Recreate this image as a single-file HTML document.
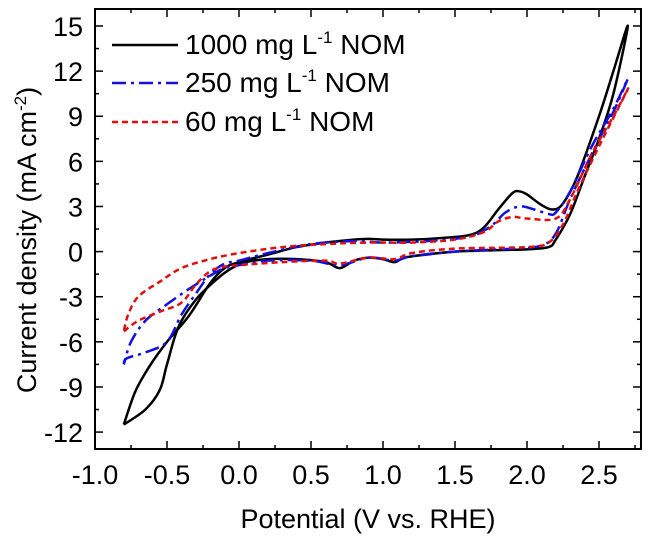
<!DOCTYPE html>
<html><head><meta charset="utf-8"><style>
body{margin:0;background:#fff}
svg{display:block;font-family:"Liberation Sans",Arial,sans-serif}
</style></head><body>
<svg id="chart" width="654" height="538">
<g id="axes"></g><g id="plot"></g><g id="legend"></g>
<text x="368" y="528" font-size="27" text-anchor="middle">Potential (V vs. RHE)</text>
<text transform="translate(36,240) rotate(-90)" font-size="27" text-anchor="middle">Current density (mA cm<tspan dy="-10" font-size="17">-2</tspan><tspan dy="10">)</tspan></text>
</svg>
<script>
const xTicks=[-1.0,-0.5,0.0,0.5,1.0,1.5,2.0,2.5];
const yTicks=[-12,-9,-6,-3,0,3,6,9,12,15];
const s1000=[[-0.8,-11.5],[-0.72,-9.3],[-0.62,-7.6],[-0.5,-6],[-0.35,-4.3],[-0.2,-2.1],[-0.1,-1.1],[0,-0.7],[0.2,-0.2],[0.4,0.3],[0.6,0.6],[0.8,0.8],[0.9,0.85],[1.0,0.8],[1.2,0.8],[1.4,0.9],[1.6,1.1],[1.7,1.6],[1.8,2.8],[1.9,3.9],[1.95,4.0],[2.0,3.8],[2.1,3.1],[2.18,2.8],[2.25,3.2],[2.35,5],[2.5,9],[2.6,12],[2.7,15],[2.6,10.5],[2.5,7.5],[2.4,5],[2.3,2.5],[2.2,0.8],[2.15,0.3],[2.0,0.15],[1.8,0.1],[1.5,0],[1.3,-0.2],[1.15,-0.4],[1.08,-0.7],[1.0,-0.5],[0.9,-0.4],[0.8,-0.6],[0.7,-1.1],[0.6,-0.7],[0.4,-0.5],[0.2,-0.5],[0.05,-0.7],[-0.05,-1.1],[-0.15,-1.8],[-0.3,-3.2],[-0.42,-5],[-0.5,-7.5],[-0.55,-9.2],[-0.65,-10.5],[-0.8,-11.5]];
const s250=[[-0.8,-7.5],[-0.78,-7.1],[-0.65,-6.7],[-0.5,-6],[-0.4,-4.2],[-0.3,-2.8],[-0.2,-1.5],[-0.1,-0.8],[0,-0.6],[0.2,-0.1],[0.5,0.5],[0.8,0.7],[1.0,0.6],[1.3,0.7],[1.6,1.0],[1.75,1.7],[1.85,2.6],[1.95,3.0],[2.05,2.8],[2.15,2.5],[2.2,2.6],[2.3,4],[2.45,7],[2.6,9.5],[2.7,11.5],[2.6,9.3],[2.45,6.5],[2.3,3.5],[2.2,1.2],[2.1,0.4],[1.9,0.2],[1.5,0],[1.2,-0.3],[1.08,-0.6],[0.9,-0.4],[0.7,-0.9],[0.5,-0.6],[0.2,-0.6],[0,-0.9],[-0.1,-1.1],[-0.2,-1.6],[-0.35,-2.5],[-0.5,-3.5],[-0.65,-4.6],[-0.75,-6],[-0.8,-7.5]];
const s60=[[-0.8,-5.3],[-0.7,-4.6],[-0.55,-4],[-0.4,-3.4],[-0.3,-2.2],[-0.2,-1.3],[-0.1,-1.0],[0,-0.9],[0.3,-0.7],[0.6,-0.6],[0.7,-0.8],[0.9,-0.4],[1.08,-0.5],[1.2,-0.1],[1.5,0.2],[2.0,0.3],[2.15,0.6],[2.25,1.8],[2.35,4],[2.5,7],[2.7,10.8],[2.6,9],[2.45,6.5],[2.3,3.5],[2.2,2.2],[2.0,2.2],[1.9,2.3],[1.8,2.0],[1.7,1.3],[1.5,0.8],[1.2,0.6],[0.9,0.6],[0.6,0.5],[0.3,0.3],[0,-0.1],[-0.2,-0.5],[-0.4,-1.1],[-0.55,-2],[-0.7,-3],[-0.77,-4.2],[-0.8,-5.3]];
const labels=["1000 mg L","250 mg L","60 mg L"];
const NS="http://www.w3.org/2000/svg";
const L=95,R=641,T=9,B=449;
const X=v=>95+(v+1)*144;
const Y=v=>251.6-v*15.04;
function mk(tag,at,parent){const e=document.createElementNS(NS,tag);for(const k in at)e.setAttribute(k,at[k]);parent.appendChild(e);return e;}
function smooth(data){const p=data.map(d=>[X(d[0]),Y(d[1])]);let s='M'+p[0][0]+','+p[0][1];
for(let i=0;i<p.length-1;i++){const a=p[Math.max(i-1,0)],b=p[i],c=p[i+1],d=p[Math.min(i+2,p.length-1)];
s+=' C'+(b[0]+(c[0]-a[0])/6)+','+(b[1]+(c[1]-a[1])/6)+' '+(c[0]-(d[0]-b[0])/6)+','+(c[1]-(d[1]-b[1])/6)+' '+c[0]+','+c[1];}return s;}
const ax=document.getElementById('axes'),pl=document.getElementById('plot'),lg=document.getElementById('legend');
const fr=mk('rect',{x:L,y:T,width:R-L,height:B-T,fill:'none',stroke:'#000','stroke-width':2},ax);


for(let v=-1;v<=2.8;v+=0.25){const x=X(v),maj=Math.abs(v*2-Math.round(v*2))<1e-6,len=maj?8:4;
mk('line',{x1:x,x2:x,y1:B,y2:B-len,stroke:'#000','stroke-width':1.5},ax);mk('line',{x1:x,x2:x,y1:T,y2:T+len,stroke:'#000','stroke-width':1.5},ax);}
for(let v=-12;v<=16;v+=1.5){const y=Y(v),maj=Math.abs(v%3)<1e-6,len=maj?8:4;
mk('line',{x1:L,x2:L+len,y1:y,y2:y,stroke:'#000','stroke-width':1.5},ax);mk('line',{x1:R,x2:R-len,y1:y,y2:y,stroke:'#000','stroke-width':1.5},ax);}
xTicks.forEach(v=>{const t=mk('text',{x:X(v),y:B+35,'font-size':27,'text-anchor':'middle'},ax);t.textContent=v.toFixed(1);

});
yTicks.forEach(v=>{const t=mk('text',{x:L-12,y:Y(v)+10,'font-size':27,'text-anchor':'end'},ax);t.textContent=v;

});
const series=[[s1000,'#000',''],[s250,'#1010e0','14 5 3 5'],[s60,'#e01010','6 4']];
const names=['series-1000','series-250','series-60'];
series.forEach((s,i)=>{const p=mk('path',{d:smooth(s[0]),fill:'none',stroke:s[1],'stroke-width':2.5,'stroke-dasharray':s[2],'stroke-linejoin':'round'},pl);


const y=[54,92,131][i];
const g=mk('g',{},lg);


mk('line',{x1:112,x2:178,y1:y-9,y2:y-9,stroke:s[1],'stroke-width':2.5,'stroke-dasharray':s[2]},g);
const t=mk('text',{x:185,y:y,'font-size':28},g);
t.innerHTML=labels[i]+'<tspan dy="-11" font-size="17">-1</tspan><tspan dy="11"> NOM</tspan>';});
</script>
</body></html>
